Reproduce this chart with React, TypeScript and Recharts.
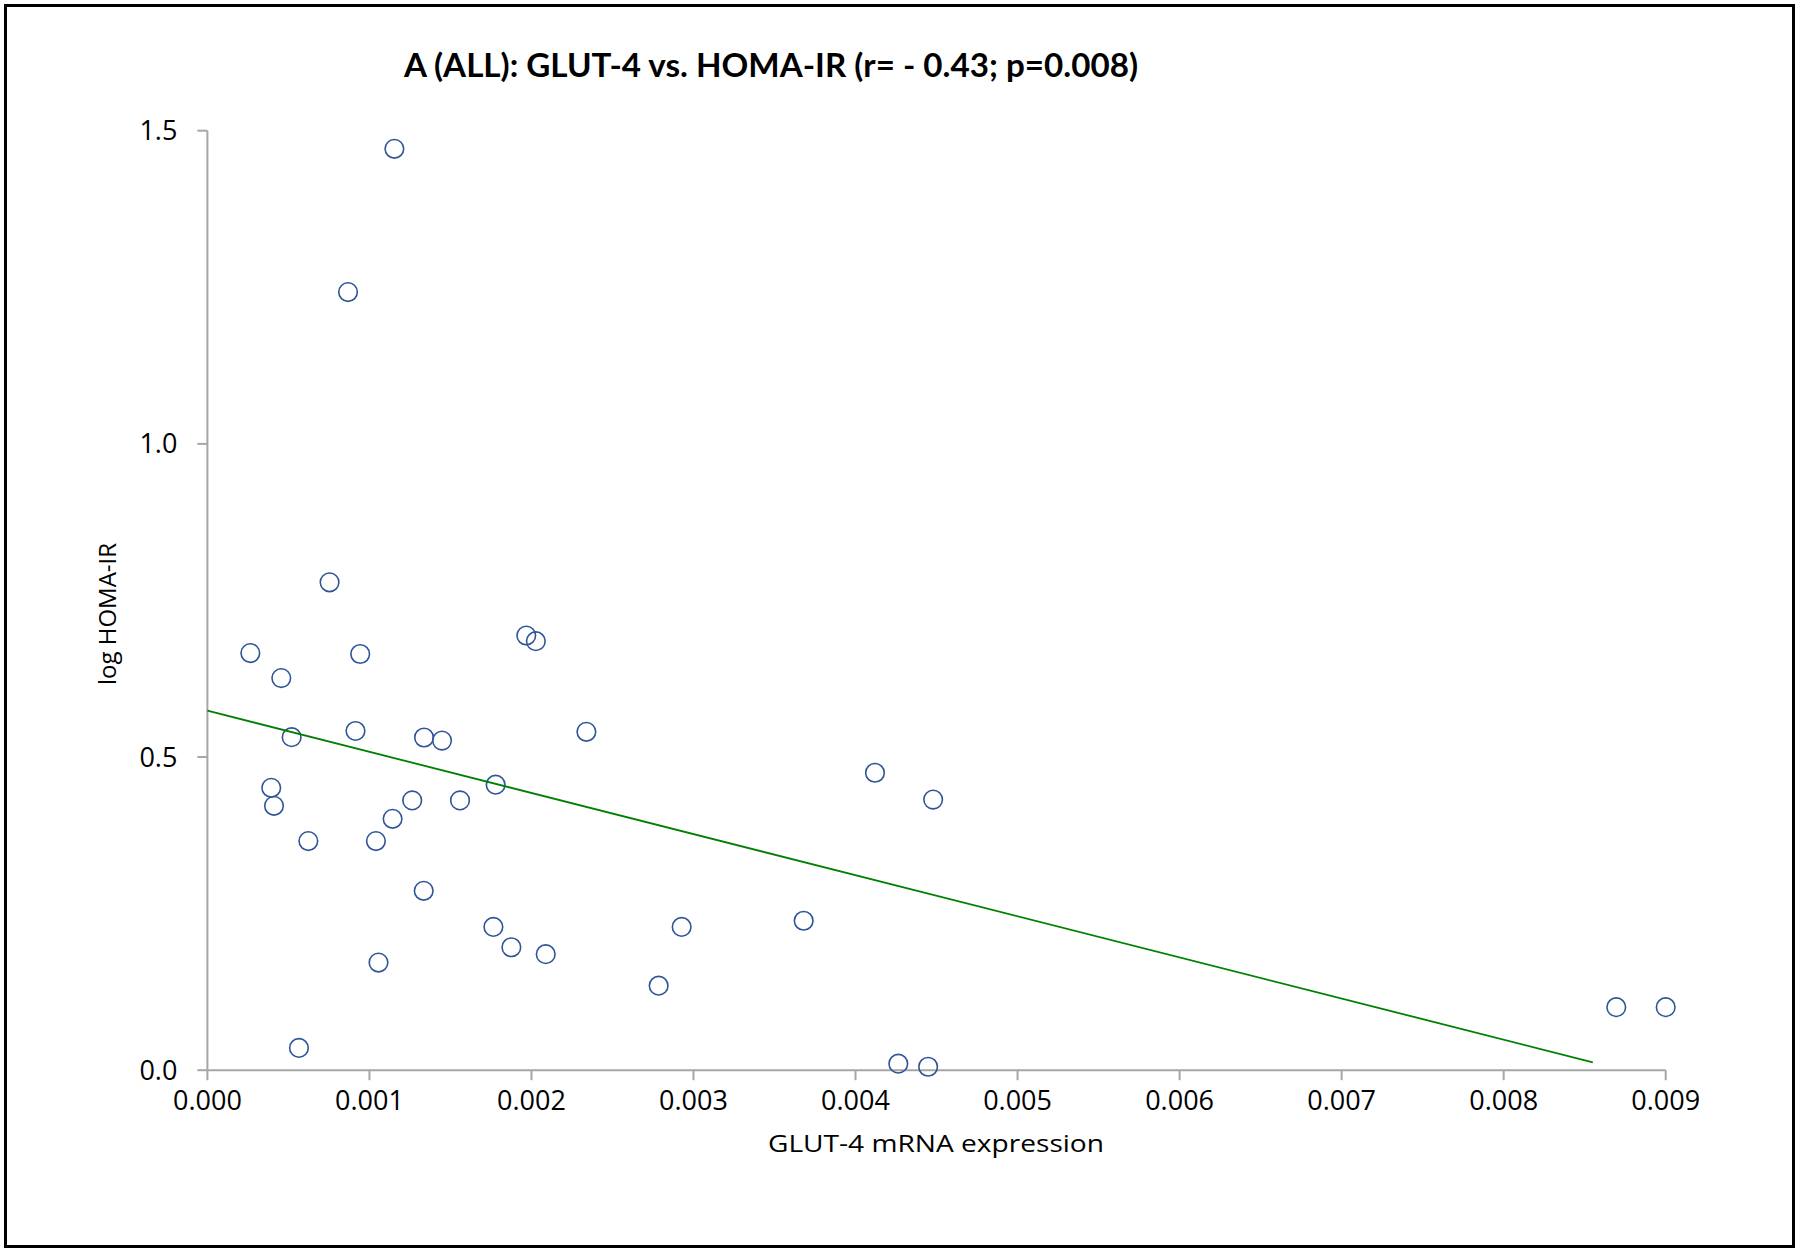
import React from 'react';
import { ScatterChart, Scatter, XAxis, YAxis } from 'recharts';

// GLUT-4 mRNA expression (x) and log HOMA-IR (y)
const glut4 = [
  0.001154, 0.000868, 0.000754, 0.000265, 0.000943, 0.000456, 0.001968, 0.002027,
  0.000914, 0.00052, 0.001337, 0.001448, 0.002339, 0.000394, 0.000411, 0.001779,
  0.001264, 0.001559, 0.001143, 0.000623, 0.00104, 0.001335, 0.001765, 0.001876,
  0.002088, 0.001056, 0.002785, 0.002927, 0.00368, 0.00412, 0.004479, 0.000565,
  0.004264, 0.004448, 0.008695, 0.009,
];
const homaIR = [
  1.471, 1.2423, 0.779, 0.666, 0.6645, 0.626, 0.694, 0.685,
  0.5416, 0.5317, 0.5312, 0.5262, 0.5403, 0.4509, 0.4221, 0.4559,
  0.4308, 0.4308, 0.4014, 0.3658, 0.3658, 0.2864, 0.2288, 0.1963,
  0.1853, 0.1719, 0.135, 0.2288, 0.2386, 0.4749, 0.432, 0.0355,
  0.0104, 0.0055, 0.1006, 0.1006,
];

// Linear trend line end points
const trendX = [0, 0.00855];
const trendY = [0.574, 0.0126];

const xTicks = [0, 0.001, 0.002, 0.003, 0.004, 0.005, 0.006, 0.007, 0.008, 0.009];
const yTicks = [0, 0.5, 1.0, 1.5];

const titleText = 'A (ALL): GLUT-4 vs. HOMA-IR (r= - 0.43; p=0.008)';
const xTitle = 'GLUT-4 mRNA expression';
const yTitle = 'log HOMA-IR';

const points = glut4.map((x, i) => ({ x, y: homaIR[i] }));
const trend = trendX.map((x, i) => ({ x, y: trendY[i] }));

const AXIS = '#a6a6a6';
const TICK_FONT = { fontSize: 27, fill: '#000', fontFamily: 'Open Sans' };

const Marker = (props: any) => {
  const { cx, cy } = props;
  if (cx == null || cy == null) return <g />;
  return <circle cx={cx} cy={cy} r={9.3} fill="none" stroke="#2F5597" strokeWidth={1.6} />;
};

const NoMarker = () => <g />;

export default function App() {
  return (
    <div style={{ position: 'absolute', left: 0, top: 0, width: 1800, height: 1253, background: '#fff' }}>
      <ScatterChart
        width={1800}
        height={1253}
        margin={{ top: 130.7, right: 134.3, bottom: 122.8, left: 127.4 }}
        style={{ position: 'absolute', left: 0, top: 0 }}
      >
        <XAxis
          type="number"
          dataKey="x"
          domain={[0, 0.009]}
          ticks={xTicks}
          interval={0}
          height={60}
          tickSize={10}
          tickMargin={11}
          tickFormatter={(v: number) => v.toFixed(3)}
          tick={TICK_FONT}
          axisLine={{ stroke: AXIS, strokeWidth: 2 }}
          tickLine={{ stroke: AXIS, strokeWidth: 2 }}
        />
        <YAxis
          type="number"
          dataKey="y"
          domain={[0, 1.5]}
          ticks={yTicks}
          interval={0}
          width={80}
          tickSize={10}
          tickMargin={20}
          tickFormatter={(v: number) => v.toFixed(1)}
          tick={TICK_FONT}
          axisLine={{ stroke: AXIS, strokeWidth: 2 }}
          tickLine={{ stroke: AXIS, strokeWidth: 2 }}
        />
        <Scatter data={points} shape={<Marker />} isAnimationActive={false} />
        <Scatter
          data={trend}
          shape={<NoMarker />}
          line={{ stroke: '#008000', strokeWidth: 1.8 }}
          isAnimationActive={false}
        />
        <text
          x={771}
          y={77.3}
          textAnchor="middle"
          fontFamily="Lato"
          fontWeight="bold"
          fontSize={33}
          fill="#000"
          textLength={734}
          lengthAdjust="spacingAndGlyphs"
        >
          {titleText}
        </text>
        <text
          x={936}
          y={1152}
          textAnchor="middle"
          fontFamily="Open Sans"
          fontSize={24}
          fill="#000"
          textLength={336}
          lengthAdjust="spacingAndGlyphs"
        >
          {xTitle}
        </text>
        <text
          x={0}
          y={0}
          transform="translate(116 614) rotate(-90)"
          textAnchor="middle"
          fontFamily="Open Sans"
          fontSize={24}
          fill="#000"
        >
          {yTitle}
        </text>
      </ScatterChart>
      <div
        style={{
          position: 'absolute',
          left: 4,
          top: 4,
          width: 1791,
          height: 1244,
          border: '3px solid #000',
          boxSizing: 'border-box',
          pointerEvents: 'none',
        }}
      />
    </div>
  );
}
